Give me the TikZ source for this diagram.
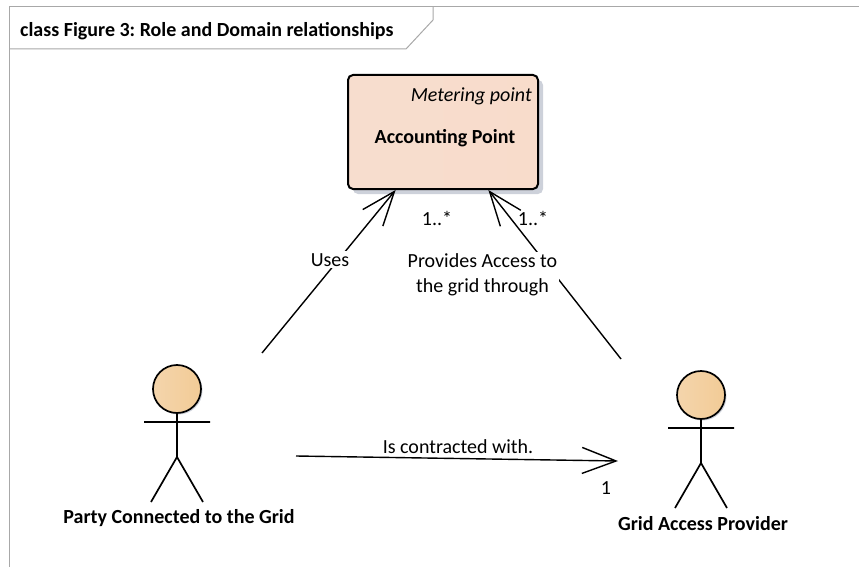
\documentclass[tikz,border=0pt]{standalone}
\usepackage{fontspec}
\setmainfont{Carlito}
\usetikzlibrary{arrows.meta,shadows}
\frenchspacing

\definecolor{framegray}{HTML}{A8A8A8}
\definecolor{boxleft}{HTML}{F7DDCE}
\definecolor{boxmid}{HTML}{FEF8F4}
\definecolor{boxright}{HTML}{F8DCCB}
\definecolor{headleft}{HTML}{F4D5AC}
\definecolor{headmid}{HTML}{F8E4C8}
\definecolor{headright}{HTML}{F2CB96}
\definecolor{shadowgray}{HTML}{CDD1DA}
\newcommand\diafont{\fontsize{20}{25}\selectfont}

\begin{document}
\begin{tikzpicture}[
    x=1pt, y=-1pt,
    font=\diafont,
    frame/.style={draw=framegray, line width=1pt},
    classbox/.style={draw, line width=2pt, rounded corners=5pt, minimum width=190pt, minimum height=114pt,
      left color=boxleft, middle color=boxmid, right color=boxright,
      drop shadow={shadow xshift=5pt, shadow yshift=-5pt, fill=shadowgray, opacity=1}},
    assoc/.style={line width=1.4pt, -{Straight Barb[length=34pt, width=26pt]}},
    lbl/.style={fill=white, inner sep=2pt, align=center},
    mult/.style={inner sep=0pt},
    actorlabel/.style={font=\diafont\bfseries, inner sep=0pt},
    stickman/.pic={
      \draw[line width=1.7pt, left color=headleft, middle color=headmid, right color=headright,
        drop shadow={shadow xshift=1.5pt, shadow yshift=-1.5pt, fill=shadowgray, opacity=1}] (0,0) circle (24);
      \draw[line width=1.7pt] (0,24) -- (0,68) (-33,33) -- (33,33) (-26,113) -- (0,68) -- (26,113);
    },
  ]
  \useasboundingbox (0,0) rectangle (859,567);
  % frame and title tab
  \draw[frame] (9,567) -- (9,7) -- (859,7);
  \draw[frame] (9,49) -- (406,49) -- (433,20) -- (433,7);
  \node[anchor=base west, inner sep=0pt, font=\diafont\bfseries] (title) at (20,36.5) {class Figure 3: Role and Domain relationships};

  % class
  \node[classbox] (acct) at (443,132) {};
  \node[anchor=base east, inner sep=0pt, font=\diafont\itshape] (stereo) at (532,101.5) {Metering point};
  \node[anchor=base, inner sep=0pt, font=\diafont\bfseries] (acctname) at (445,143) {Accounting Point};

  % actors
  \pic at (177,389) {stickman};
  \pic at (701,395) {stickman};
  \node[actorlabel, anchor=base] (party) at (179,523) {Party Connected to the Grid};
  \node[actorlabel, anchor=base] (provider) at (703,530) {Grid Access Provider};

  % associations
  \coordinate (usesStart) at (262,353);
  \coordinate (accessStart) at (621,359);
  \coordinate (contractStart) at (296,456);
  \coordinate (contractEnd) at (618,461);
  \draw[assoc] (usesStart) -- (acct);
  \draw[assoc] (accessStart) -- (acct);
  \draw[assoc] (contractStart) -- (contractEnd);

  \node[lbl, anchor=base] (uses) at (330,266) {Uses};
  \node[lbl] (access) at (482.5,275) {Provides Access to\\the grid through};
  \node[mult, anchor=base] (contract) at (458,453) {Is contracted with.};
  \node[mult, anchor=base] (multUses) at (437,225) {1..*};
  \node[mult, anchor=base] (multAccess) at (533,225) {1..*};
  \node[mult, anchor=base] (multContract) at (606,494) {1};
\end{tikzpicture}
\end{document}
